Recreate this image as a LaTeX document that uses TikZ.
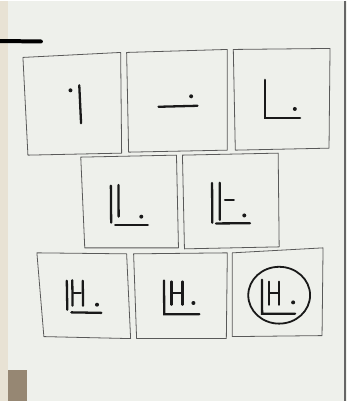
\documentclass[tikz,border=0pt]{standalone}
\definecolor{paper}{RGB}{238,240,235}
\definecolor{wall}{RGB}{232,226,212}
\definecolor{stone}{RGB}{150,135,115}
\begin{document}
\begin{tikzpicture}[x=1pt,y=-1pt,
  card/.style={draw=black!65,line width=0.8pt,line join=round},
  pen/.style={draw=black!90,line width=2.3pt,line cap=round},
  dotmark/.style={fill=black!90}]
% background paper
\fill[paper] (0,0) rectangle (348,402);
\fill[wall] (0,0) rectangle (8,402);
\fill[stone] (8,370) rectangle (27,402);
\draw[black!60,line width=1.2pt] (346,0) -- (346,402);
\useasboundingbox (0,0) rectangle (348,402);
% black bar
\draw[black,line width=4pt,line cap=round] (-3,40.5) -- (41,41);
% row 1 cards
\draw[card] (23,57) -- (121,52) -- (122,153) -- (28,155) -- cycle;
\draw[card] (127,52) -- (228,49) -- (228,150) -- (129,152) -- cycle;
\draw[card] (234,49) -- (331,48) -- (330,148) -- (236,150) -- cycle;
% row 2 cards
\draw[card] (81,157) -- (177,155) -- (179,248) -- (85,248) -- cycle;
\draw[card] (183,155) -- (279,153) -- (280,247) -- (185,249) -- cycle;
% row 3 cards
\draw[card] (37,253) -- (127,254) -- (131,339) -- (44,337) -- cycle;
\draw[card] (134,254) -- (228,253) -- (227,339) -- (137,339) -- cycle;
\draw[card] (233,253) -- (324,248) -- (323,336) -- (233,337) -- cycle;
% card 1
\fill[dotmark] (70.7,90) circle (2);
\draw[pen] (79.5,85) -- (81.3,123);
% card 2
\fill[dotmark] (191.7,96) circle (2);
\draw[pen] (159,106.5) -- (198,105.5);
% card 3
\draw[pen] (266,79.5) -- (266,117.7) -- (301,117.7);
\fill[dotmark] (295.7,108.7) circle (2);
% card 4
\draw[pen] (111.2,185.7) -- (111.5,222.7);
\draw[pen] (118.8,185) -- (119,216.7);
\draw[pen] (115.5,225) -- (148.3,225);
\fill[dotmark] (141.7,216.7) circle (2);
% card 5
\draw[pen] (212.7,183) -- (212.9,222.7);
\draw[pen] (220.3,182.7) -- (220.5,220);
\draw[pen] (225.7,200) -- (234.5,200);
\draw[pen] (216.7,223.5) -- (250.7,223.3);
\fill[dotmark] (245,215.5) circle (2);
% card 6
\draw[pen] (67,281) -- (67.5,310);
\draw[pen] (72.5,280.5) -- (72.8,306);
\draw[pen] (74,293) -- (81,293);
\draw[pen] (83,281) -- (83.3,306);
\draw[pen] (71.5,312.7) -- (101.7,313.2);
\fill[dotmark] (97.3,305) circle (2);
% card 7
\draw[pen] (164.5,280.7) -- (164.7,314.5) -- (200,314.5);
\draw[pen] (172,281.7) -- (172,305);
\draw[pen] (183,281.7) -- (183,305);
\draw[pen] (172,293.3) -- (183,293.3);
\fill[dotmark] (194,303.3) circle (2);
% card 8
\draw[black!90,line width=1.8pt] (280,295.5) ellipse (31 and 28.5);
\draw[pen] (262.7,280) -- (262.9,314) -- (296,314);
\draw[pen] (270,282) -- (270,305);
\draw[pen] (279.5,282) -- (279.5,305);
\draw[pen] (270,293.3) -- (279.5,293.3);
\fill[dotmark] (294,302.7) circle (2);
\end{tikzpicture}
\end{document}
